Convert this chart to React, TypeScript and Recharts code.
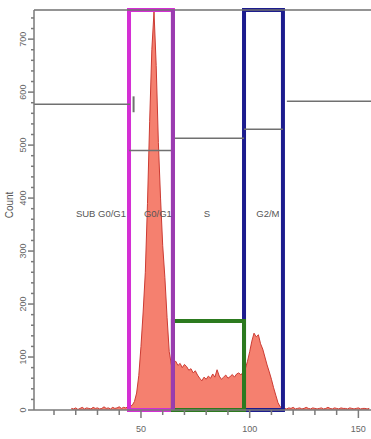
import React from 'react';
import {
  ComposedChart,
  Area,
  XAxis,
  YAxis,
  ReferenceArea,
  ReferenceLine,
  ReferenceDot,
  Label,
} from 'recharts';

// ---- data ----
const firstChannel = 18;
const counts: number[] = [
  // 18..44 baseline
  3, 2, 4, 1, 3, 5, 2, 4, 3, 2, 5, 3, 4, 2, 3, 6, 3, 4, 2, 5, 3, 4, 6, 3, 5, 4, 6,
  // 45..64 G0/G1 peak
  7, 9, 16, 32, 65, 120, 185, 260, 390, 545, 680, 752, 650, 505, 400, 310, 250, 175, 110, 85,
  // 65..98 S phase
  90, 92, 84, 88, 80, 86, 82, 75, 78, 70, 74, 66, 60, 55, 62, 58, 64, 60, 68, 62, 76, 64, 58,
  62, 66, 60, 63, 67, 62, 68, 70, 66, 72, 78,
  // 99..115 G2/M peak
  92, 110, 130, 145, 138, 142, 125, 115, 100, 85, 72, 58, 42, 28, 14, 6, 4,
  // 116..155 tail
  3, 2, 4, 3, 5, 2, 3, 4, 2, 3, 5, 3, 2, 4, 3, 2, 3, 4, 2, 3, 5, 3, 2, 4, 3, 2, 4, 3, 3, 2,
  4, 3, 2, 3, 4, 2, 3, 3, 2, 3,
];

const xTicks = [10, 20, 30, 40, 50, 60, 70, 80, 90, 100, 110, 120, 130, 140, 150];
const yTicks = [
  0, 20, 40, 60, 80, 100, 120, 140, 160, 180, 200, 220, 240, 260, 280, 300, 320, 340, 360, 380,
  400, 420, 440, 460, 480, 500, 520, 540, 560, 580, 600, 620, 640, 660, 680, 700, 720, 740,
];
const xDomain = [0.8, 155.8];
const yDomain = [0, 755];

const gateSubLine = { x1: 0.8, x2: 45, y: 577 };
const gateG1 = { x1: 44.5, x2: 64.7, y: 755, marker: 490 };
const gateS = { x1: 64.7, x2: 97.4, y: 168, marker: 513 };
const gateG2 = { x1: 97.4, x2: 115.3, y: 755, marker: 530 };
const gateRight = { x1: 117.1, x2: 155.8, y: 583 };

const regionLabels = [
  { name: 'SUB G0/G1', x: 31.6, y: 370 },
  { name: 'G0/G1', x: 57.8, y: 370 },
  { name: 'S', x: 80.3, y: 370 },
  { name: 'G2/M', x: 108.4, y: 370 },
];

const data = counts.map((c, i) => ({ x: firstChannel + i, count: c }));

const AXIS = '#7a7a7a';
const TXT = '#666';

const XTick = (props: any) => {
  const { x, y, payload } = props;
  const v = payload.value;
  const major = v % 50 === 0;
  return (
    <g>
      <line x1={x} x2={x} y1={y} y2={y + (major ? 8 : 5)} stroke={AXIS} strokeWidth={1.5} />
      {major && (
        <text x={x} y={y + 22} textAnchor="middle" fontSize={9} fill={TXT} fontFamily="Liberation Sans, Arial, sans-serif">
          {v}
        </text>
      )}
    </g>
  );
};

const YTick = (props: any) => {
  const { x, y, payload } = props;
  const v = payload.value;
  const major = v % 100 === 0;
  return (
    <g>
      <line x1={x - (major ? 6 : 3)} x2={x} y1={y} y2={y} stroke={AXIS} strokeWidth={1.5} />
      {major && (
        <text
          transform={`translate(${x - 8},${y}) rotate(-90)`}
          textAnchor="middle"
          fontSize={9}
          fill={TXT}
          fontFamily="Liberation Sans, Arial, sans-serif"
        >
          {v}
        </text>
      )}
    </g>
  );
};

const CountLabel = () => (
  <text
    transform="translate(13,205) rotate(-90)"
    textAnchor="middle"
    fontSize={10}
    fill="#555"
    fontFamily="Liberation Sans, Arial, sans-serif"
  >
    Count
  </text>
);

const MARK = '#707070';

export default function App() {
  return (
    <div style={{ position: 'absolute', left: 0, top: 0, width: 371, height: 439, background: '#fff' }}>
      <ComposedChart width={371} height={439} data={data} margin={{ top: 10, right: 0, bottom: 0, left: 0 }}>
        <XAxis
          type="number"
          dataKey="x"
          domain={xDomain}
          ticks={xTicks}
          interval={0}
          allowDataOverflow
          tick={<XTick />}
          tickLine={false}
          tickSize={0}
          tickMargin={0}
          height={29}
          axisLine={{ stroke: AXIS, strokeWidth: 1.5 }}
        />
        <YAxis
          type="number"
          domain={yDomain}
          ticks={yTicks}
          interval={0}
          allowDataOverflow
          tick={<YTick />}
          tickLine={false}
          tickSize={0}
          tickMargin={0}
          width={34}
          axisLine={{ stroke: AXIS, strokeWidth: 1.5 }}
        >
          <Label content={<CountLabel />} />
        </YAxis>
        <Area
          type="linear"
          dataKey="count"
          fill="#f5806f"
          fillOpacity={1}
          stroke="#cc3b33"
          strokeWidth={1}
          isAnimationActive={false}
        />
        <ReferenceLine y={755} stroke={MARK} strokeWidth={1.5} />
        <ReferenceLine
          segment={[{ x: gateSubLine.x1, y: gateSubLine.y }, { x: gateSubLine.x2, y: gateSubLine.y }]}
          stroke={MARK}
          strokeWidth={1.5}
        />
        <ReferenceLine
          segment={[{ x: 46.6, y: 562 }, { x: 46.6, y: 592 }]}
          stroke={MARK}
          strokeWidth={2}
        />
        <ReferenceLine
          segment={[{ x: gateG1.x1, y: gateG1.marker }, { x: gateG1.x2, y: gateG1.marker }]}
          stroke={MARK}
          strokeWidth={1.5}
        />
        <ReferenceLine
          segment={[{ x: gateS.x1, y: gateS.marker }, { x: gateS.x2, y: gateS.marker }]}
          stroke={MARK}
          strokeWidth={1.5}
        />
        <ReferenceLine
          segment={[{ x: gateG2.x1, y: gateG2.marker }, { x: gateG2.x2, y: gateG2.marker }]}
          stroke={MARK}
          strokeWidth={1.5}
        />
        <ReferenceLine
          segment={[{ x: gateRight.x1, y: gateRight.y }, { x: gateRight.x2, y: gateRight.y }]}
          stroke={MARK}
          strokeWidth={1.5}
        />
        <ReferenceArea
          x1={gateG1.x1}
          x2={gateG1.x2}
          y1={0}
          y2={gateG1.y}
          fill="none"
          fillOpacity={0}
          stroke="#d42fd4"
          strokeWidth={4}
        />
        <ReferenceLine
          segment={[{ x: gateG1.x2, y: 0 }, { x: gateG1.x2, y: gateG1.y }]}
          stroke="#9a3cb0"
          strokeWidth={4}
        />
        <ReferenceArea
          x1={gateG2.x1}
          x2={gateG2.x2}
          y1={0}
          y2={gateG2.y}
          fill="none"
          fillOpacity={0}
          stroke="#1c1c8e"
          strokeWidth={4}
        />
        <ReferenceArea
          x1={gateS.x1}
          x2={gateS.x2}
          y1={0}
          y2={gateS.y}
          fill="none"
          fillOpacity={0}
          stroke="#2c7a1f"
          strokeWidth={4}
        />
        {regionLabels.map((l) => (
          <ReferenceDot
            key={l.name}
            x={l.x}
            y={l.y}
            r={0}
            fill="none"
            stroke="none"
            label={{
              value: l.name,
              position: 'center',
              fontSize: 9.5,
              fill: '#555',
              fontFamily: 'Liberation Sans Narrow, Liberation Sans, Arial, sans-serif',
            }}
          />
        ))}
      </ComposedChart>
    </div>
  );
}
